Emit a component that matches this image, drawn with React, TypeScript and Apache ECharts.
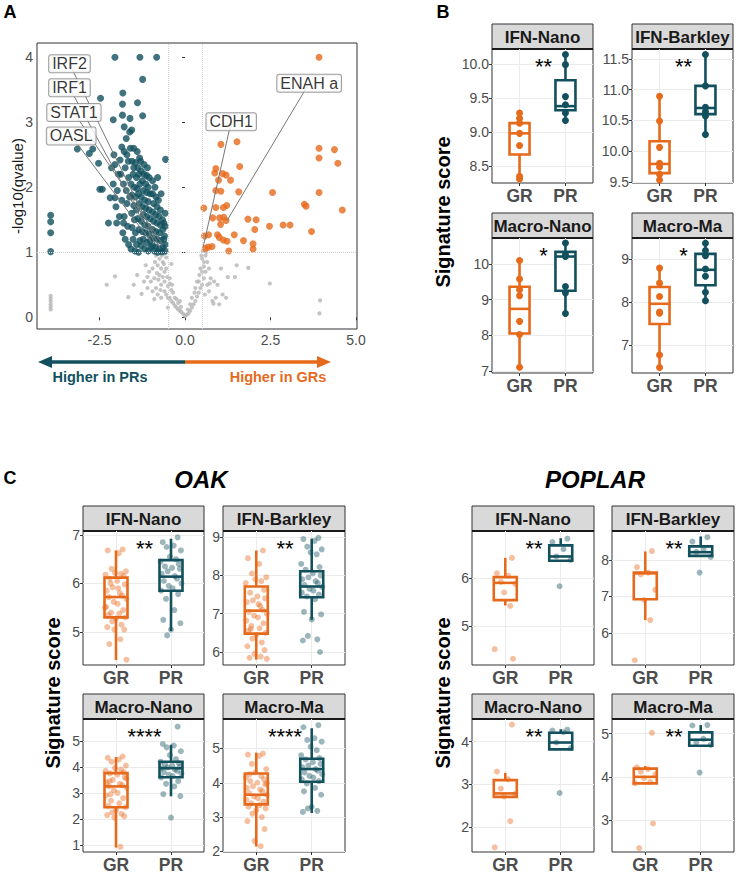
import React, { useEffect, useRef } from 'react';
import * as echarts from 'echarts';

const FONT = '"Liberation Sans", Arial, Helvetica, sans-serif';
const TEAL = '#12505e';
const ORANGE = '#e66a1c';
const GREY_PT = '#b5b5b5';
const AXIS_GREY = '#4d4d4d';
const FRAME = '#333333';

// ---------------- Panel A: volcano ----------------
const volcanoPR: number[][] = [
  [-2.05, 4.0], [-1.32, 4.0], [-0.83, 4.0], [-1.24, 3.66], [-1.82, 3.45], [-2.47, 3.37], [-1.83, 3.28], [-1.39, 3.3],
  [-2.1, 3.04], [-1.83, 3.11], [-1.61, 3.06], [-1.24, 3.1], [-1.78, 2.93], [-1.56, 2.88], [-3.15, 2.59], [-2.7, 2.59],
  [-2.8, 2.52], [-2.53, 2.37], [-0.57, 2.43], [-2.49, 1.97], [-2.42, 1.97], [-2.19, 1.84], [-2.05, 1.84], [-2.24, 1.45],
  [-3.93, 1.57], [-3.93, 1.47], [-3.93, 1.3], [-3.93, 1.01],
  [-2.15, 2.3], [-2.05, 2.35], [-1.95, 2.2], [-2.1, 2.05], [-1.98, 1.95], [-2.02, 1.7], [-1.92, 1.55], [-2.0, 1.45], [-2.08, 2.5], [-1.9, 2.42],
  [-1.85, 2.62], [-1.78, 2.55], [-1.7, 2.5], [-1.88, 2.2], [-1.75, 2.3], [-1.66, 2.4], [-1.8, 2.05], [-1.72, 1.95], [-1.65, 2.15],
  [-1.85, 1.8], [-1.7, 1.75], [-1.62, 1.85], [-1.78, 1.55], [-1.68, 1.4], [-1.82, 1.3], [-1.75, 1.2], [-1.65, 1.12], [-1.8, 1.45],
  [-1.6, 2.6], [-1.72, 2.75], [-1.62, 2.85],
  [-1.55, 2.4], [-1.5, 2.3], [-1.45, 2.38], [-1.38, 2.3], [-1.52, 2.2], [-1.42, 2.15], [-1.35, 2.2], [-1.58, 2.05], [-1.48, 2.0],
  [-1.4, 1.98], [-1.32, 2.05], [-1.55, 1.88], [-1.45, 1.85], [-1.36, 1.9], [-1.5, 1.72], [-1.42, 1.65], [-1.34, 1.75], [-1.56, 1.6],
  [-1.48, 1.5], [-1.38, 1.52], [-1.55, 1.38], [-1.45, 1.3], [-1.35, 1.35], [-1.52, 1.2], [-1.42, 1.12], [-1.32, 1.18], [-1.58, 1.05],
  [-1.46, 1.02], [-1.36, 1.0], [-1.4, 2.55], [-1.5, 2.6], [-1.33, 2.45],
  [-1.28, 2.25], [-1.2, 2.2], [-1.12, 2.18], [-1.05, 2.15], [-1.25, 2.1], [-1.15, 2.05], [-1.08, 2.0], [-1.22, 1.95], [-1.12, 1.92],
  [-1.02, 1.9], [-1.28, 1.85], [-1.18, 1.8], [-1.08, 1.78], [-1.25, 1.7], [-1.15, 1.68], [-1.05, 1.65], [-1.22, 1.58], [-1.12, 1.55],
  [-1.02, 1.52], [-1.28, 1.48], [-1.18, 1.42], [-1.08, 1.4], [-1.25, 1.32], [-1.15, 1.3], [-1.05, 1.28], [-1.22, 1.2], [-1.12, 1.15],
  [-1.02, 1.18], [-1.28, 1.1], [-1.18, 1.05], [-1.08, 1.02], [-1.0, 1.08], [-1.2, 2.35], [-1.1, 2.3], [-1.3, 2.4],
  [-0.95, 2.1], [-0.88, 2.0], [-0.95, 1.9], [-0.85, 1.85], [-0.78, 1.8], [-0.92, 1.75], [-0.82, 1.7], [-0.72, 1.65], [-0.95, 1.62],
  [-0.86, 1.58], [-0.76, 1.55], [-0.66, 1.5], [-0.92, 1.48], [-0.82, 1.45], [-0.72, 1.42], [-0.62, 1.45], [-0.95, 1.35], [-0.85, 1.32],
  [-0.75, 1.3], [-0.65, 1.35], [-0.58, 1.4], [-0.92, 1.22], [-0.82, 1.2], [-0.72, 1.18], [-0.62, 1.2], [-0.95, 1.1], [-0.85, 1.08],
  [-0.75, 1.05], [-0.65, 1.08], [-0.58, 1.12], [-0.9, 1.02], [-0.8, 1.0], [-0.68, 1.01], [-0.58, 1.02], [-0.6, 1.25], [-0.58, 1.6],
  [-0.7, 1.9], [-0.8, 2.15],
];
const volcanoGR: number[][] = [
  [3.92, 4.0], [1.05, 2.66], [1.52, 2.7], [3.92, 2.6], [4.37, 2.58], [3.92, 2.45], [4.47, 2.37], [0.9, 2.29], [1.6, 2.32],
  [0.87, 2.22], [1.1, 2.21], [1.2, 2.19], [1.33, 2.11], [0.98, 2.11], [0.9, 1.95], [1.05, 1.94], [1.57, 1.93], [2.56, 1.92],
  [3.92, 1.92], [0.55, 1.68], [0.9, 1.69], [1.12, 1.69], [1.22, 1.72], [3.49, 1.74], [3.54, 1.71], [4.6, 1.65], [0.81, 1.53],
  [1.01, 1.53], [1.13, 1.54], [1.2, 1.49], [1.04, 1.43], [1.84, 1.51], [2.08, 1.5], [2.04, 1.35], [2.47, 1.4], [2.87, 1.42],
  [3.07, 1.42], [3.7, 1.32], [0.57, 1.25], [0.69, 1.27], [0.95, 1.27], [1.0, 1.23], [1.12, 1.19], [1.23, 1.17], [1.44, 1.27],
  [1.71, 1.18], [1.99, 1.13], [1.99, 1.05], [1.28, 1.02], [0.59, 1.06], [0.68, 1.08], [0.79, 1.09],
];
const volcanoNS: number[][] = [
  [0.0, 0.02], [-0.05, 0.05], [0.05, 0.04], [-0.1, 0.08], [0.1, 0.06], [-0.15, 0.1], [0.15, 0.1], [-0.2, 0.12], [0.2, 0.15],
  [-0.25, 0.15], [0.25, 0.2], [-0.3, 0.18], [-0.35, 0.22], [0.3, 0.25], [-0.4, 0.25], [0.35, 0.32], [-0.45, 0.3], [0.4, 0.38],
  [-0.5, 0.3], [-0.55, 0.35], [0.45, 0.45], [-0.6, 0.4], [0.5, 0.5], [-0.4, 0.42], [-0.5, 0.48], [0.55, 0.6], [-0.6, 0.55],
  [0.4, 0.55], [-0.7, 0.5], [0.6, 0.7], [-0.65, 0.62], [0.5, 0.7], [-0.75, 0.65], [0.45, 0.75], [-0.6, 0.7], [0.55, 0.85],
  [-0.7, 0.75], [0.5, 0.9], [-0.8, 0.8], [0.6, 0.95], [-0.65, 0.85], [-0.75, 0.9], [-0.55, 0.92], [-0.85, 0.95], [-0.6, 0.98],
  [-0.7, 0.3], [-0.8, 0.35], [-0.9, 0.28], [-0.85, 0.45], [-0.95, 0.4], [-1.0, 0.55], [-0.9, 0.6], [-1.05, 0.7], [-0.95, 0.75],
  [-0.3, 0.3], [-0.2, 0.22], [-0.35, 0.38], [0.3, 0.45], [0.2, 0.3], [0.35, 0.55], [0.65, 0.5], [0.7, 0.4], [0.75, 0.6],
  [0.85, 0.55], [0.9, 0.3], [0.8, 0.25], [0.95, 0.5], [1.1, 0.35], [1.2, 0.3], [1.05, 0.75], [1.25, 0.62], [1.46, 0.62],
  [1.51, 0.8], [1.85, 0.76], [2.48, 0.52], [0.83, 0.21], [1.0, 0.2], [-1.27, 0.36], [-1.66, 0.31], [-2.29, 0.5], [-2.05, 0.63],
  [-1.4, 0.65], [-1.2, 0.55], [-1.15, 0.8], [-1.5, 0.5], [-1.1, 0.45], [3.95, 0.26], [3.93, 0.06], [-3.93, 0.33], [-3.93, 0.29],
  [-3.93, 0.25], [-3.93, 0.2], [-3.93, 0.16], [-3.93, 0.12], [-0.5, 0.15], [-0.45, 0.6], [-0.55, 0.75], [-0.4, 0.82], [0.65, 0.85],
  [0.7, 0.75], [0.58, 0.35], [0.15, 0.2], [-0.15, 0.25], [0.62, 1.0], [0.52, 1.02],
  [-0.25, 0.28], [-0.45, 0.52], [-0.68, 0.95], [-0.78, 0.58], [-0.88, 0.85], [-0.52, 0.62], [-0.62, 0.82], [0.42, 0.65], [0.48, 0.95],
  [0.28, 0.38], [-0.12, 0.16], [0.08, 0.12], [-0.38, 0.5], [-0.72, 0.42], [-0.82, 0.68], [0.55, 0.78], [-1.1, 0.62], [0.72, 0.52],
];
const geneNames = ['IRF2', 'IRF1', 'STAT1', 'OASL', 'CDH1', 'ENAH a'];
const genePoints: number[][] = [[-0.73, 1.06], [-0.88, 1.14], [-0.64, 1.11], [-1.02, 1.18], [0.53, 1.08], [1.23, 1.49]];
const volcanoXTicks = [-2.5, 0, 2.5, 5];
const volcanoYTicks = [0, 1, 2, 3, 4];
const fcCutoffs = [-0.5, 0.5];
const qCutoff = 1;

// ---------------- Panels B / C: signature scores ----------------
const signatures = ['IFN-Nano', 'IFN-Barkley', 'Macro-Nano', 'Macro-Ma'];
const groupLabels = ['GR', 'PR'];
const JIT = [0.12, -0.15, 0.05, -0.08, 0.18, -0.02, 0.09, -0.19, 0.14, -0.11, 0.02, 0.16, -0.06, -0.17, 0.07, 0.11, -0.13, 0.19,
  -0.04, 0.03, -0.18, 0.13, -0.09, 0.06, -0.14, 0.17, 0.0, -0.07, 0.1, -0.16, 0.15, -0.03, 0.08, -0.12, 0.19, -0.1, 0.04, -0.2,
  0.12, -0.05, 0.16, -0.15, 0.01, 0.09];

// B (box stats: min, q1, median, q3, max)
const bBoxGR = [[8.31, 8.67, 8.98, 9.13, 9.28], [9.53, 9.64, 9.79, 10.16, 10.89], [7.1, 8.05, 8.74, 9.36, 10.1], [6.48, 7.49, 7.96, 8.35, 8.79]];
const bBoxPR = [[9.17, 9.32, 9.38, 9.76, 10.14], [10.27, 10.6, 10.7, 11.06, 11.57], [8.61, 9.25, 10.21, 10.34, 10.59], [8.03, 8.39, 8.75, 9.12, 9.37]];
const bPointsGR = [[9.28, 9.2, 9.13, 8.98, 8.8, 8.35, 8.31], [10.89, 10.49, 10.06, 9.8, 9.74, 9.62, 9.53], [10.1, 9.58, 9.28, 9.11, 8.39, 8.02, 7.1], [8.79, 8.44, 8.13, 7.77, 7.74, 6.77, 6.48]];
const bPointsPR = [[10.14, 9.99, 9.52, 9.4, 9.28, 9.17], [11.57, 11.06, 10.71, 10.64, 10.57, 10.27], [10.59, 10.26, 10.21, 9.37, 9.19, 8.61], [9.37, 9.2, 9.08, 8.77, 8.6, 8.23, 8.03]];
const bStars = ['**', '**', '*', '*'];
const bYTicks = [[8.5, 9, 9.5, 10], [9.5, 10, 10.5, 11, 11.5], [7, 8, 9, 10], [7, 8, 9]];
const bYRange = [[8.25, 10.22], [9.48, 11.66], [6.94, 10.73], [6.35, 9.49]];
const bDecimals = [1, 1, 0, 0];

// C - OAK
const oakBoxGR = [[4.42, 5.3, 5.72, 6.12, 6.68], [5.8, 6.48, 7.08, 7.71, 8.65], [0.9, 2.45, 3.25, 3.76, 4.38], [2.14, 3.37, 3.65, 4.27, 4.88]];
const oakBoxPR = [[5.02, 5.85, 6.14, 6.48, 6.92], [6.84, 7.43, 7.71, 8.11, 8.96], [2.87, 3.6, 3.95, 4.2, 4.85], [3.12, 4.03, 4.4, 4.7, 5.59]];
const oakPointsGR = [
  [6.7, 6.68, 6.62, 6.3, 6.25, 6.22, 6.2, 6.18, 6.15, 6.1, 6.05, 5.98, 5.92, 5.85, 5.8, 5.75, 5.72, 5.68, 5.62, 5.58, 5.52, 5.45, 5.4, 5.38, 5.35, 5.3, 5.28, 5.22, 5.15, 5.1, 5.05, 5.05, 4.85, 4.75, 4.43, 6.0, 5.9, 5.5],
  [8.65, 8.45, 8.3, 8.05, 7.95, 7.9, 7.85, 7.8, 7.62, 7.55, 7.45, 7.4, 7.35, 7.3, 7.2, 7.1, 7.05, 7.0, 6.95, 6.9, 6.82, 6.75, 6.68, 6.62, 6.55, 6.5, 6.45, 6.35, 6.25, 6.15, 6.05, 5.95, 5.88, 5.85, 5.82, 6.6, 7.25],
  [4.4, 4.35, 4.28, 4.2, 4.05, 3.95, 3.9, 3.85, 3.8, 3.75, 3.7, 3.6, 3.5, 3.4, 3.35, 3.3, 3.25, 3.2, 3.1, 3.0, 2.9, 2.8, 2.7, 2.6, 2.5, 2.45, 2.35, 2.25, 2.2, 2.15, 2.1, 2.05, 0.93, 3.45, 3.55, 2.95],
  [4.85, 4.82, 4.78, 4.55, 4.4, 4.3, 4.2, 4.15, 4.1, 4.05, 4.0, 3.95, 3.9, 3.85, 3.8, 3.75, 3.7, 3.65, 3.6, 3.55, 3.5, 3.45, 3.4, 3.35, 3.3, 3.25, 3.2, 3.1, 3.0, 2.88, 2.65, 2.3, 2.15, 4.25, 3.98],
];
const oakPointsPR = [
  [6.95, 6.85, 6.78, 6.75, 6.68, 6.55, 6.5, 6.45, 6.4, 6.35, 6.32, 6.3, 6.25, 6.2, 6.15, 6.1, 6.05, 6.0, 5.95, 5.9, 5.85, 5.78, 5.68, 5.45, 5.25, 5.18, 5.05, 4.93],
  [8.98, 8.95, 8.9, 8.75, 8.68, 8.6, 8.55, 8.3, 8.22, 8.15, 8.05, 8.0, 7.95, 7.9, 7.85, 7.8, 7.75, 7.7, 7.65, 7.6, 7.55, 7.5, 7.45, 7.38, 7.05, 6.98, 6.85, 6.42, 6.33, 6.3, 6.0],
  [5.55, 4.88, 4.82, 4.75, 4.6, 4.45, 4.3, 4.2, 4.15, 4.1, 4.05, 4.0, 3.98, 3.95, 3.9, 3.85, 3.8, 3.75, 3.7, 3.65, 3.6, 3.45, 3.35, 3.25, 2.95, 2.88, 2.05],
  [5.68, 5.62, 5.3, 5.25, 5.2, 5.05, 4.95, 4.8, 4.72, 4.68, 4.6, 4.55, 4.5, 4.45, 4.4, 4.35, 4.3, 4.25, 4.2, 4.15, 4.1, 4.05, 3.98, 3.85, 3.75, 3.65, 3.3, 3.25, 3.18, 3.15],
];
const oakStars = ['**', '**', '****', '****'];
const oakYTicks = [[5, 6, 7], [6, 7, 8, 9], [1, 2, 3, 4, 5], [2, 3, 4, 5]];
const oakYRange = [[4.32, 7.08], [5.66, 9.16], [0.73, 5.84], [1.98, 5.86]];

// C - POPLAR
const popBoxGR = [[5.43, 5.54, 5.9, 6.02, 6.42], [6.35, 6.92, 7.63, 7.65, 8.23], [2.71, 2.71, 2.79, 3.1, 3.27], [3.85, 3.85, 4.0, 4.19, 4.25]];
const popBoxPR = [[6.36, 6.36, 6.45, 6.68, 6.83], [8.11, 8.11, 8.21, 8.37, 8.64], [3.82, 3.82, 3.98, 4.21, 4.29], [4.72, 4.72, 4.86, 5.03, 5.2]];
const popPointsGR = [
  [6.42, 6.1, 6.05, 5.92, 5.88, 5.7, 5.42, 4.52, 4.32],
  [8.24, 7.8, 7.65, 7.6, 7.18, 6.9, 6.35, 5.25],
  [4.4, 3.3, 3.12, 2.9, 2.78, 2.72, 2.14, 1.53],
  [5.02, 4.22, 4.18, 4.12, 4.05, 3.97, 3.88, 3.85, 2.92, 2.35],
];
const popPointsPR = [
  [6.82, 6.75, 6.6, 6.45, 6.38, 5.83],
  [8.62, 8.5, 8.3, 8.22, 8.08, 7.65],
  [4.28, 4.26, 4.22, 3.98, 3.85, 2.8],
  [5.2, 5.19, 4.88, 4.8, 4.74, 4.1],
];
const popStars = ['**', '**', '**', '**'];
const popYTicks = [[5, 6], [6, 7, 8], [2, 3, 4], [3, 4, 5]];
const popYRange = [[4.19, 6.98], [5.12, 8.79], [1.42, 4.53], [2.26, 5.34]];

// ---------------- layout ----------------
type Rect = { l: number; t: number; w: number; h: number };
const bLayout: Rect[] = [
  { l: 492, t: 49, w: 101, h: 134 }, { l: 632, t: 49, w: 101, h: 134 },
  { l: 492, t: 238, w: 101, h: 135 }, { l: 632, t: 238, w: 101, h: 135 },
];
const oakLayout: Rect[] = [
  { l: 83, t: 531, w: 121, h: 134 }, { l: 223, t: 531, w: 122, h: 134 },
  { l: 83, t: 719, w: 121, h: 134 }, { l: 223, t: 719, w: 122, h: 134 },
];
const popLayout: Rect[] = [
  { l: 472, t: 531, w: 122, h: 134 }, { l: 612, t: 531, w: 122, h: 134 },
  { l: 472, t: 719, w: 122, h: 134 }, { l: 612, t: 719, w: 122, h: 134 },
];
const geneLabelPos: number[][] = [[-3.38, 3.9], [-3.38, 3.53], [-3.25, 3.15], [-3.33, 2.79], [1.35, 3.01], [3.63, 3.6]];

function boxRenderer(boxW: number) {
  return (params: any, api: any) => {
    const x = api.value(0);
    const color = x < 1.5 ? ORANGE : TEAL;
    const lo = api.coord([x, api.value(1)]);
    const q1 = api.coord([x, api.value(2)]);
    const md = api.coord([x, api.value(3)]);
    const q3 = api.coord([x, api.value(4)]);
    const hi = api.coord([x, api.value(5)]);
    const hw = boxW / 2;
    const st = { stroke: color, lineWidth: 2.6, fill: 'none' };
    return {
      type: 'group',
      children: [
        { type: 'line', shape: { x1: lo[0], y1: lo[1], x2: q1[0], y2: q1[1] }, style: st },
        { type: 'line', shape: { x1: q3[0], y1: q3[1], x2: hi[0], y2: hi[1] }, style: st },
        { type: 'rect', shape: { x: q3[0] - hw, y: q3[1], width: boxW, height: Math.max(q1[1] - q3[1], 0.5) }, style: { ...st, fill: '#ffffff' } },
        { type: 'line', shape: { x1: md[0] - hw, y1: md[1], x2: md[0] + hw, y2: md[1] }, style: st },
      ],
    };
  };
}

function buildOption() {
  const grid: any[] = [];
  const xAxis: any[] = [];
  const yAxis: any[] = [];
  const series: any[] = [];
  const graphic: any[] = [];

  const txt = (x: number, y: number, text: string, o: any = {}) => ({
    type: 'text', x, y, silent: true,
    style: { text, fontFamily: FONT, fill: '#000', align: 'center', verticalAlign: 'middle', ...o },
  });

  // ---------- volcano ----------
  grid.push({ left: 37, top: 43, width: 320, height: 286, show: true, borderColor: FRAME, borderWidth: 1, backgroundColor: '#fff' });
  xAxis.push({
    gridIndex: 0, type: 'value', min: -4.33, max: 5.03,
    axisLine: { show: false },
    axisTick: { show: true, length: 3, lineStyle: { color: FRAME }, customValues: volcanoXTicks },
    axisLabel: { customValues: volcanoXTicks, formatter: (v: number) => v.toFixed(1), color: AXIS_GREY, fontSize: 14, fontFamily: FONT, margin: 4 },
    splitLine: { show: false },
  });
  yAxis.push({
    gridIndex: 0, type: 'value', min: -0.18, max: 4.22,
    axisLine: { show: false },
    axisTick: { show: true, length: 3, lineStyle: { color: FRAME }, customValues: volcanoYTicks },
    axisLabel: { customValues: volcanoYTicks, formatter: (v: number) => String(v), color: AXIS_GREY, fontSize: 14, fontFamily: FONT, margin: 4 },
    splitLine: { show: false },
  });
  series.push({
    type: 'scatter', xAxisIndex: 0, yAxisIndex: 0, data: volcanoNS, symbolSize: 4.2, silent: true,
    itemStyle: { color: GREY_PT },
    markLine: {
      silent: true, symbol: 'none', label: { show: false },
      lineStyle: { color: '#d0d0d0', type: 'dotted', width: 1 },
      data: [...fcCutoffs.map((v) => ({ xAxis: v })), { yAxis: qCutoff }],
    },
  });
  series.push({ type: 'scatter', xAxisIndex: 0, yAxisIndex: 0, data: volcanoPR, symbolSize: 7, silent: true, itemStyle: { color: TEAL } });
  series.push({ type: 'scatter', xAxisIndex: 0, yAxisIndex: 0, data: volcanoGR, symbolSize: 7, silent: true, itemStyle: { color: ORANGE } });
  series.push({
    type: 'scatter', xAxisIndex: 0, yAxisIndex: 0, z: 5, silent: true, symbolSize: 0,
    data: geneNames.map((n, i) => ({ name: n, value: geneLabelPos[i] })),
    label: {
      show: true, position: 'inside', formatter: (p: any) => p.name, fontFamily: FONT, fontSize: 16, color: '#000',
      backgroundColor: '#fff', borderColor: '#8a8a8a', borderWidth: 1, borderRadius: 2, padding: [1, 3, 0, 3],
    },
    markLine: {
      silent: true, symbol: 'none', label: { show: false }, z: 4,
      lineStyle: { color: '#777', type: 'solid', width: 1 },
      data: geneNames.map((n, i) => [{ coord: geneLabelPos[i] }, { coord: genePoints[i] }]),
    },
  });
  graphic.push(txt(10, 12, 'A', { fontSize: 18, fontWeight: 'bold' }));
  graphic.push({ ...txt(17, 186, '-log10(qvalue)', { fontSize: 15, fill: '#1a1a1a' }), rotation: Math.PI / 2 });
  // arrow
  graphic.push({ type: 'line', silent: true, shape: { x1: 48, y1: 362, x2: 185, y2: 362 }, style: { stroke: TEAL, lineWidth: 3.5 } });
  graphic.push({ type: 'line', silent: true, shape: { x1: 185, y1: 362, x2: 320, y2: 362 }, style: { stroke: ORANGE, lineWidth: 3.5 } });
  graphic.push({ type: 'polygon', silent: true, shape: { points: [[38, 362], [52, 356], [52, 368]] }, style: { fill: TEAL } });
  graphic.push({ type: 'polygon', silent: true, shape: { points: [[331, 362], [317, 356], [317, 368]] }, style: { fill: ORANGE } });
  graphic.push(txt(100, 377, 'Higher in PRs', { fontSize: 14.5, fontWeight: 'bold', fill: TEAL }));
  graphic.push(txt(278, 377, 'Higher in GRs', { fontSize: 14.5, fontWeight: 'bold', fill: ORANGE }));

  // ---------- facet panels ----------
  const addPanel = (r: Rect, title: string, boxGR: number[], boxPR: number[], ptsGR: number[], ptsPR: number[],
    ticks: number[], range: number[], dec: number, star: string, jitter: boolean) => {
    const gi = grid.length;
    grid.push({ left: r.l, top: r.t, width: r.w, height: r.h, show: true, borderColor: FRAME, borderWidth: 1, backgroundColor: '#fff' });
    xAxis.push({
      gridIndex: gi, type: 'value', min: 0.4, max: 2.6,
      axisLine: { show: false },
      axisTick: { show: true, length: 3, lineStyle: { color: FRAME }, customValues: [1, 2] },
      axisLabel: {
        customValues: [1, 2], formatter: (v: number) => groupLabels[Math.round(v) - 1] || '',
        color: AXIS_GREY, fontSize: 17.5, fontWeight: 'bold', fontFamily: FONT, margin: 4,
      },
      splitLine: { show: true, lineStyle: { color: '#ebebeb', width: 1 } },
    });
    yAxis.push({
      gridIndex: gi, type: 'value', min: range[0], max: range[1],
      axisLine: { show: false },
      axisTick: { show: true, length: 3, lineStyle: { color: FRAME }, customValues: ticks },
      axisLabel: { customValues: ticks, formatter: (v: number) => v.toFixed(dec), color: AXIS_GREY, fontSize: 14, fontFamily: FONT, margin: 3 },
      splitLine: { show: true, lineStyle: { color: '#ebebeb', width: 1 } },
    });
    series.push({
      type: 'custom', xAxisIndex: gi, yAxisIndex: gi, silent: true, clip: false,
      renderItem: boxRenderer(jitter ? 23 : 20),
      encode: { x: 0, y: [1, 2, 3, 4, 5] },
      data: [[1, ...boxGR], [2, ...boxPR]],
    });
    const mk = (pts: number[], base: number) => pts.map((v, i) => [base + (jitter ? JIT[i % JIT.length] : 0), v]);
    series.push({
      type: 'scatter', xAxisIndex: gi, yAxisIndex: gi, silent: true, data: mk(ptsGR, 1), symbolSize: jitter ? 6 : 7,
      itemStyle: { color: ORANGE, opacity: jitter ? 0.42 : 1 },
    });
    series.push({
      type: 'scatter', xAxisIndex: gi, yAxisIndex: gi, silent: true, data: mk(ptsPR, 2), symbolSize: jitter ? 6 : 7,
      itemStyle: { color: TEAL, opacity: jitter ? 0.42 : 1 },
    });
    // strip
    graphic.push({ type: 'rect', silent: true, shape: { x: r.l, y: r.t - 25, width: r.w, height: 25 }, style: { fill: '#d9d9d9', stroke: FRAME, lineWidth: 1 } });
    graphic.push({ type: 'line', silent: true, shape: { x1: r.l, y1: r.t, x2: r.l + r.w, y2: r.t }, style: { stroke: '#1a1a1a', lineWidth: 2 } });
    graphic.push(txt(r.l + r.w / 2, r.t - 12, title, { fontSize: 17, fontWeight: 'bold', fill: '#1a1a1a' }));
    graphic.push({ ...txt(r.l + r.w / 2 + 1, r.t + 6, star, { fontSize: 22, verticalAlign: 'top' }), z: 100 });
  };

  for (let i = 0; i < 4; i++) {
    addPanel(bLayout[i], signatures[i], bBoxGR[i], bBoxPR[i], bPointsGR[i], bPointsPR[i], bYTicks[i], bYRange[i], bDecimals[i], bStars[i], false);
  }
  for (let i = 0; i < 4; i++) {
    addPanel(oakLayout[i], signatures[i], oakBoxGR[i], oakBoxPR[i], oakPointsGR[i], oakPointsPR[i], oakYTicks[i], oakYRange[i], 0, oakStars[i], true);
  }
  for (let i = 0; i < 4; i++) {
    addPanel(popLayout[i], signatures[i], popBoxGR[i], popBoxPR[i], popPointsGR[i], popPointsPR[i], popYTicks[i], popYRange[i], 0, popStars[i], true);
  }

  graphic.push(txt(443, 12, 'B', { fontSize: 18, fontWeight: 'bold' }));
  graphic.push(txt(10, 478, 'C', { fontSize: 18, fontWeight: 'bold' }));
  graphic.push(txt(201, 479, 'OAK', { fontSize: 24, fontWeight: 'bold', fontStyle: 'italic' }));
  graphic.push(txt(595, 479, 'POPLAR', { fontSize: 24, fontWeight: 'bold', fontStyle: 'italic' }));
  graphic.push({ ...txt(443, 212, 'Signature score', { fontSize: 20, fontWeight: 'bold' }), rotation: Math.PI / 2 });
  graphic.push({ ...txt(53, 693, 'Signature score', { fontSize: 20, fontWeight: 'bold' }), rotation: Math.PI / 2 });
  graphic.push({ ...txt(443, 693, 'Signature score', { fontSize: 20, fontWeight: 'bold' }), rotation: Math.PI / 2 });

  return {
    animation: false,
    backgroundColor: '#ffffff',
    textStyle: { fontFamily: FONT },
    grid, xAxis, yAxis, series,
    graphic: { elements: graphic },
  };
}

export default function App() {
  const ref = useRef<HTMLDivElement>(null);
  useEffect(() => {
    if (!ref.current) return;
    const chart = echarts.init(ref.current, undefined, { renderer: 'svg' });
    chart.setOption(buildOption() as any);
    return () => chart.dispose();
  }, []);
  return <div ref={ref} style={{ position: 'fixed', left: 0, top: 0, width: 736, height: 874, background: '#fff' }} />;
}
